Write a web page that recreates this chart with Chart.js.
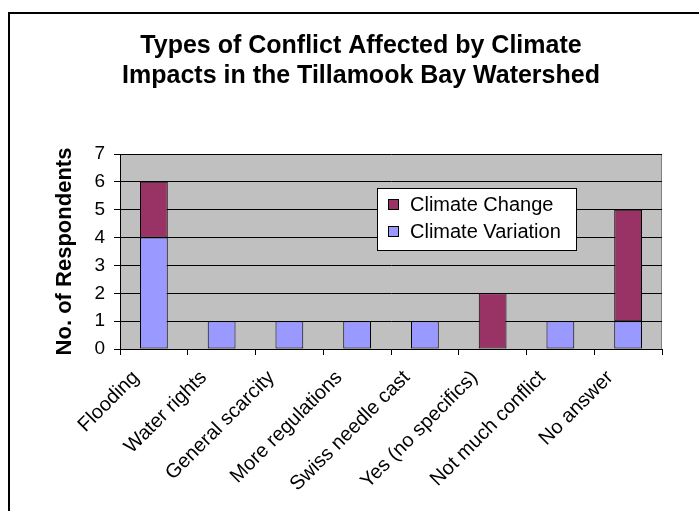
<!DOCTYPE html>
<html>
<head>
<meta charset="utf-8">
<title>Types of Conflict Affected by Climate Impacts</title>
<script src="https://cdn.jsdelivr.net/npm/chart.js@4.4.1/dist/chart.umd.min.js"></script>
<style>
  html, body { margin: 0; padding: 0; background: #fff; }
  #wrap { width: 699px; height: 511px; position: relative; }
</style>
</head>
<body>
<div id="wrap"><canvas id="chart"></canvas></div>
<script>
// survey answers, counted per conflict type
const categories = ['Flooding', 'Water rights', 'General scarcity', 'More regulations',
  'Swiss needle cast', 'Yes (no specifics)', 'Not much conflict', 'No answer'];
const climateVariation = [4, 1, 1, 1, 1, 0, 1, 1];
const climateChange = [2, 0, 0, 0, 0, 2, 0, 4];
const yTicks = [0, 1, 2, 3, 4, 5, 6, 7];

const FONT = "Arial, 'Liberation Sans', sans-serif";

// grey plot area + outer frame, drawn before the scales
const backdrop = {
  id: 'backdrop',
  beforeDraw(chart) {
    const { ctx, chartArea: a } = chart;
    ctx.save();
    ctx.fillStyle = '#C0C0C0';
    ctx.fillRect(a.left, a.top, a.right - a.left, a.bottom - a.top);
    ctx.strokeStyle = '#808080';
    ctx.lineWidth = 1;
    ctx.beginPath();
    ctx.moveTo(a.right - 0.5, a.top);
    ctx.lineTo(a.right - 0.5, a.bottom);
    ctx.stroke();
    ctx.strokeStyle = '#000';
    ctx.lineWidth = 2;
    ctx.strokeRect(9, 13, 900, 700);
    ctx.restore();
  }
};

// boxed legend sitting inside the plot area, top series first
const boxLegend = {
  id: 'boxLegend',
  afterDraw(chart) {
    const { ctx, chartArea: a } = chart;
    const x = a.left + 257, y = a.top + 34, w = 199, h = 62;
    ctx.save();
    ctx.fillStyle = '#fff';
    ctx.fillRect(x, y, w, h);
    ctx.strokeStyle = '#000';
    ctx.lineWidth = 1;
    ctx.strokeRect(x + 0.5, y + 0.5, w, h);
    const items = chart.data.datasets.slice().reverse();
    ctx.font = '20px ' + FONT;
    ctx.textBaseline = 'middle';
    items.forEach((ds, i) => {
      const cy = y + 16 + i * 27;
      ctx.fillStyle = ds.backgroundColor;
      ctx.fillRect(x + 11, cy - 5, 11, 11);
      ctx.strokeRect(x + 11.5, cy - 4.5, 10, 10);
      ctx.fillStyle = '#000';
      ctx.fillText(ds.label, x + 33, cy + 1);
    });
    ctx.restore();
  }
};

new Chart(document.getElementById('chart'), {
  type: 'bar',
  data: {
    labels: categories,
    datasets: [
      { label: 'Climate Variation', data: climateVariation, backgroundColor: '#9999FF' },
      { label: 'Climate Change', data: climateChange, backgroundColor: '#993366' }
    ]
  },
  options: {
    responsive: true,
    maintainAspectRatio: false,
    animation: false,
    layout: { padding: { left: 60, right: 37, top: 0, bottom: 0 } },
    datasets: {
      bar: {
        borderColor: '#000',
        borderWidth: 1,
        borderSkipped: false,
        categoryPercentage: 1,
        barPercentage: 0.41
      }
    },
    plugins: {
      legend: { display: false },
      tooltip: { enabled: false },
      title: {
        display: true,
        text: ['Types of Conflict Affected by Climate', 'Impacts in the Tillamook Bay Watershed'],
        color: '#000',
        font: { family: FONT, size: 25, weight: 'bold', lineHeight: '30px' },
        padding: { top: 31, bottom: 63 }
      }
    },
    scales: {
      x: {
        stacked: true,
        border: { color: '#000', width: 1 },
        grid: { offset: true, drawOnChartArea: false, drawTicks: true, tickLength: 6, color: '#000' },
        ticks: {
          color: '#000',
          font: { family: FONT, size: 20 },
          minRotation: 45,
          maxRotation: 45,
          autoSkip: false,
          labelOffset: -18,
          padding: 11
        },
        afterFit(scale) { scale.height = 162; }
      },
      y: {
        stacked: true,
        min: 0,
        max: 7,
        border: { color: '#000', width: 1 },
        grid: { color: '#000', tickLength: 6 },
        afterBuildTicks(scale) { scale.ticks = yTicks.map(v => ({ value: v })); },
        ticks: {
          color: '#000',
          font: { family: FONT, size: 19 },
          padding: 9
        },
        title: {
          display: true,
          text: 'No. of Respondents',
          color: '#000',
          font: { family: FONT, size: 22, weight: 'bold' },
          padding: { top: -8, bottom: 0 }
        },
        afterFit(scale) { scale.width = 60; }
      }
    }
  },
  plugins: [backdrop, boxLegend]
});
</script>
</body>
</html>
